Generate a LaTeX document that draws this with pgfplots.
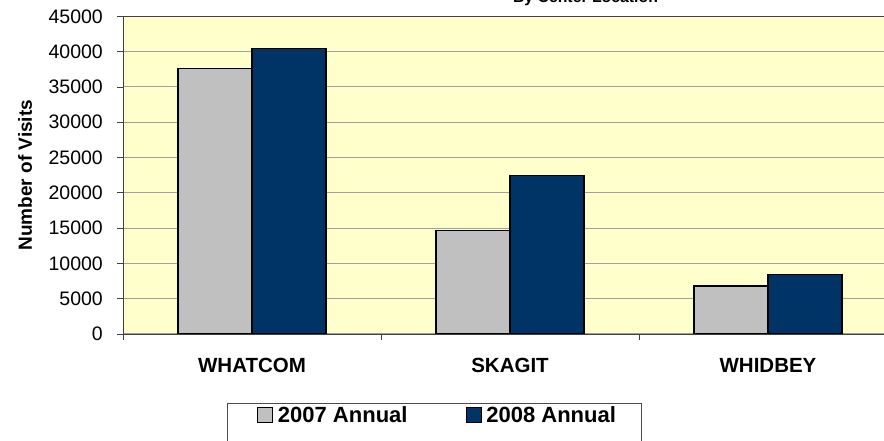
\documentclass[border=0pt]{standalone}
\usepackage{pgfplots}
\pgfplotsset{compat=1.18}
\usepackage{fontspec}
\setmainfont{Liberation Sans}
\definecolor{bgyellow}{HTML}{FFFFCC}
\definecolor{bargray}{HTML}{C0C0C0}
\definecolor{barnavy}{HTML}{003366}
\definecolor{gridgray}{HTML}{A0A0A0}
\begin{document}
\begin{tikzpicture}
\begin{axis}[
  at={(123bp,107bp)}, anchor=south west,
  scale only axis, width=774bp, height=317.6bp,
  xmin=-0.5, xmax=2.5, ymin=0, ymax=45000,
  ybar=0pt, bar width=74bp,
  axis background/.style={fill=bgyellow},
  axis line style={black!75, line width=0.8bp},
  xtick={0,1,2},
  xticklabels={WHATCOM,SKAGIT,WHIDBEY},
  minor xtick={-0.5,0.5,1.5,2.5},
  major x tick style={draw=none},
  minor x tick style={black!75, line width=0.8bp},
  ytick={0,5000,...,45000},
  y tick style={black!75, line width=0.8bp},
  tick align=outside, xtick pos=bottom, ytick pos=left,
  major tick length=6bp, minor tick length=6bp,
  ymajorgrids, grid style={gridgray, line width=1bp},
  scaled y ticks=false,
  /pgf/number format/1000 sep={},
  /pgf/number format/assume math mode=true,
  yticklabel style={font=\fontsize{19.5bp}{22bp}\selectfont, inner sep=0pt, xshift=-14bp},
  xticklabel style={font=\bfseries\fontsize{20.5bp}{24bp}\selectfont, inner sep=0pt, yshift=-18bp},
  ylabel={Number of Visits},
  every axis y label/.style={at={(axis description cs:-0.1266,0.5)}, rotate=90, anchor=center,
    font=\bfseries\fontsize{19bp}{22bp}\selectfont},
  area legend,
  legend image code/.code={\draw[#1, line width=0.8bp] (0bp,-7.5bp) rectangle (15bp,7.5bp);},
  legend columns=2,
  legend style={draw=none, fill=none, inner sep=0pt, anchor=west,
    at={(axis description cs:0.1731,-0.255)},
    font=\bfseries\fontsize{22bp}{25bp}\selectfont,
    nodes={inner sep=0pt},
    /tikz/every odd column/.append style={column sep=5bp},
    /tikz/every even column/.append style={column sep=58bp}},
]
\addplot[fill=bargray, draw=black, line width=1.2bp] coordinates {(0,37600) (1,14700) (2,6800)};
\addplot[fill=barnavy, draw=black, line width=1.2bp] coordinates {(0,40400) (1,22500) (2,8400)};
\legend{2007 Annual, 2008 Annual}
\end{axis}
\draw[black!70, line width=0.8bp] (227bp,-20bp) rectangle (641bp,38bp);
\node[anchor=base, font=\bfseries\fontsize{15.8bp}{18bp}\selectfont, inner sep=0pt] at (585.5bp,438bp) {By Center Location};
\pgfresetboundingbox
\useasboundingbox (0,0) rectangle (884bp,441bp);
\end{tikzpicture}
\end{document}
